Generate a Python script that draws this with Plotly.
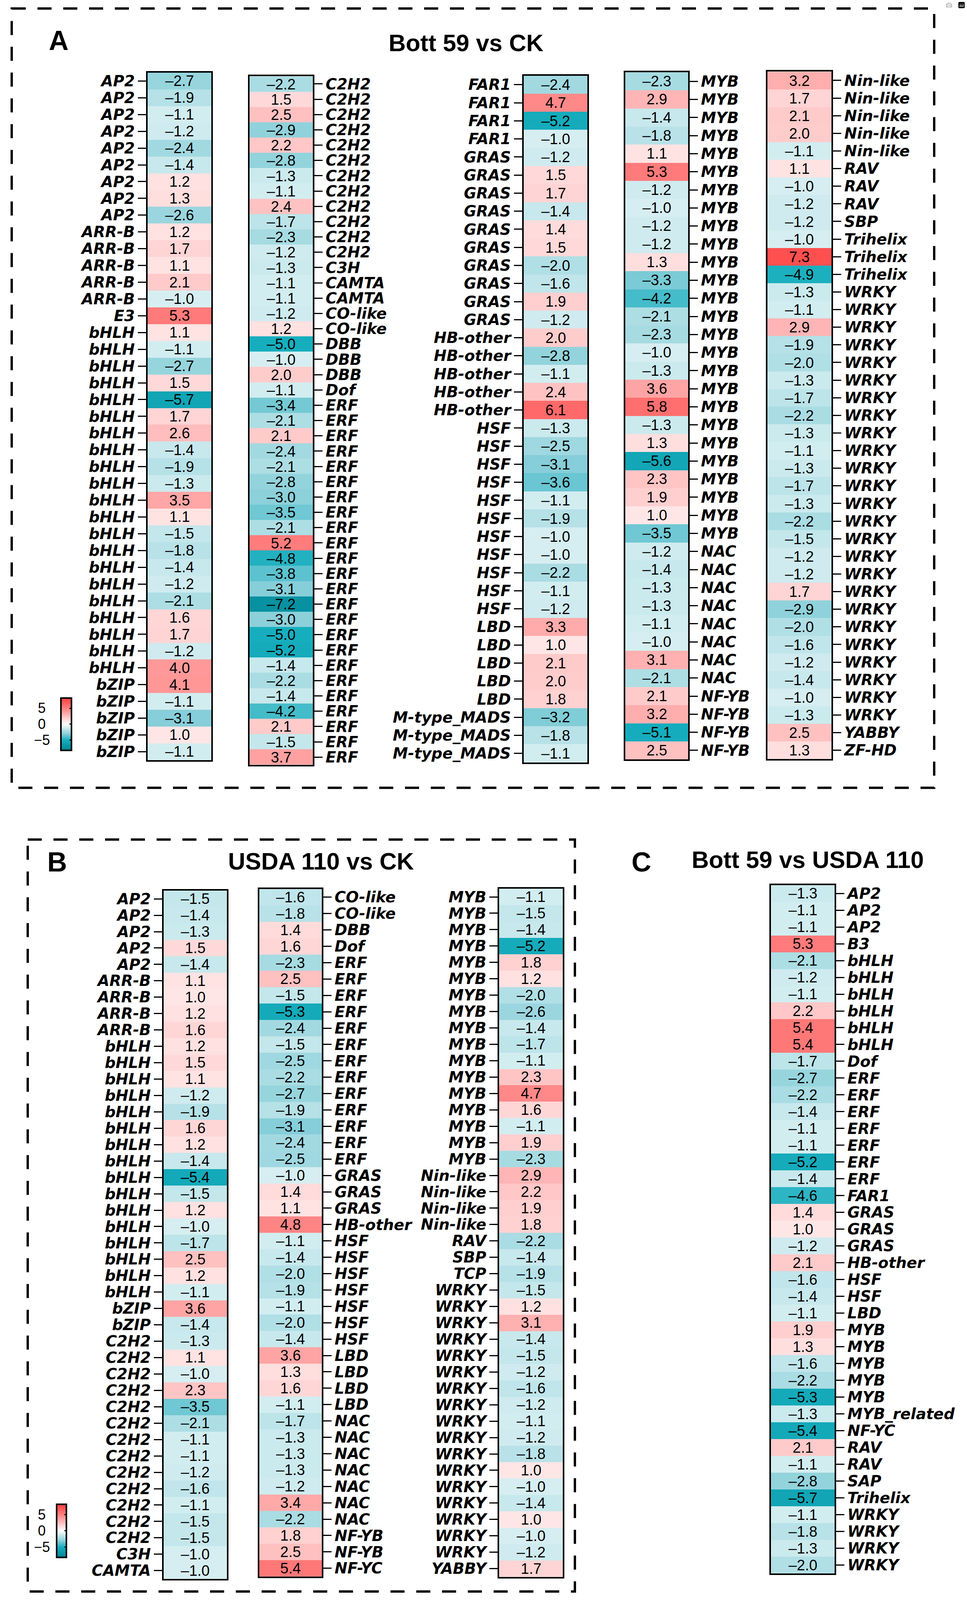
import plotly.graph_objects as go

# reference canvas (positions below are given in these pixel units and converted to paper fractions)
W, H = 2476, 4783
FONT = "Liberation Sans, Arial, sans-serif"
LABEL_FONT = "DejaVu Sans, Liberation Sans, sans-serif"

# ---------------- data ----------------
A1_labels = ["AP2", "AP2", "AP2", "AP2", "AP2", "AP2", "AP2", "AP2", "AP2",
             "ARR-B", "ARR-B", "ARR-B", "ARR-B", "ARR-B", "E3",
             "bHLH", "bHLH", "bHLH", "bHLH", "bHLH", "bHLH", "bHLH", "bHLH", "bHLH", "bHLH", "bHLH",
             "bHLH", "bHLH", "bHLH", "bHLH", "bHLH", "bHLH", "bHLH", "bHLH", "bHLH", "bHLH",
             "bZIP", "bZIP", "bZIP", "bZIP", "bZIP"]
A1_values = [-2.7, -1.9, -1.1, -1.2, -2.4, -1.4, 1.2, 1.3, -2.6,
             1.2, 1.7, 1.1, 2.1, -1.0, 5.3,
             1.1, -1.1, -2.7, 1.5, -5.7, 1.7, 2.6, -1.4, -1.9, -1.3, 3.5,
             1.1, -1.5, -1.8, -1.4, -1.2, -2.1, 1.6, 1.7, -1.2, 4.0,
             4.1, -1.1, -3.1, 1.0, -1.1]

A2_labels = ["C2H2", "C2H2", "C2H2", "C2H2", "C2H2", "C2H2", "C2H2", "C2H2", "C2H2", "C2H2", "C2H2", "C2H2",
             "C3H", "CAMTA", "CAMTA", "CO-like", "CO-like", "DBB", "DBB", "DBB", "Dof",
             "ERF", "ERF", "ERF", "ERF", "ERF", "ERF", "ERF", "ERF", "ERF", "ERF", "ERF", "ERF",
             "ERF", "ERF", "ERF", "ERF", "ERF", "ERF", "ERF", "ERF", "ERF", "ERF", "ERF", "ERF"]
A2_values = [-2.2, 1.5, 2.5, -2.9, 2.2, -2.8, -1.3, -1.1, 2.4, -1.7, -2.3, -1.2,
             -1.3, -1.1, -1.1, -1.2, 1.2, -5.0, -1.0, 2.0, -1.1,
             -3.4, -2.1, 2.1, -2.4, -2.1, -2.8, -3.0, -3.5, -2.1, 5.2, -4.8, -3.8,
             -3.1, -7.2, -3.0, -5.0, -5.2, -1.4, -2.2, -1.4, -4.2, 2.1, -1.5, 3.7]

A3_labels = ["FAR1", "FAR1", "FAR1", "FAR1",
             "GRAS", "GRAS", "GRAS", "GRAS", "GRAS", "GRAS", "GRAS", "GRAS", "GRAS", "GRAS",
             "HB-other", "HB-other", "HB-other", "HB-other", "HB-other",
             "HSF", "HSF", "HSF", "HSF", "HSF", "HSF", "HSF", "HSF", "HSF", "HSF", "HSF",
             "LBD", "LBD", "LBD", "LBD", "LBD",
             "M-type_MADS", "M-type_MADS", "M-type_MADS"]
A3_values = [-2.4, 4.7, -5.2, -1.0,
             -1.2, 1.5, 1.7, -1.4, 1.4, 1.5, -2.0, -1.6, 1.9, -1.2,
             2.0, -2.8, -1.1, 2.4, 6.1,
             -1.3, -2.5, -3.1, -3.6, -1.1, -1.9, -1.0, -1.0, -2.2, -1.1, -1.2,
             3.3, 1.0, 2.1, 2.0, 1.8,
             -3.2, -1.8, -1.1]

A4_labels = ["MYB", "MYB", "MYB", "MYB", "MYB", "MYB", "MYB", "MYB", "MYB", "MYB", "MYB", "MYB", "MYB",
             "MYB", "MYB", "MYB", "MYB", "MYB", "MYB", "MYB", "MYB", "MYB", "MYB", "MYB", "MYB", "MYB",
             "NAC", "NAC", "NAC", "NAC", "NAC", "NAC", "NAC", "NAC",
             "NF-YB", "NF-YB", "NF-YB", "NF-YB"]
A4_values = [-2.3, 2.9, -1.4, -1.8, 1.1, 5.3, -1.2, -1.0, -1.2, -1.2, 1.3, -3.3, -4.2,
             -2.1, -2.3, -1.0, -1.3, 3.6, 5.8, -1.3, 1.3, -5.6, 2.3, 1.9, 1.0, -3.5,
             -1.2, -1.4, -1.3, -1.3, -1.1, -1.0, 3.1, -2.1,
             2.1, 3.2, -5.1, 2.5]

A5_labels = ["Nin-like", "Nin-like", "Nin-like", "Nin-like", "Nin-like", "RAV", "RAV", "RAV", "SBP",
             "Trihelix", "Trihelix", "Trihelix",
             "WRKY", "WRKY", "WRKY", "WRKY", "WRKY", "WRKY", "WRKY", "WRKY", "WRKY", "WRKY", "WRKY", "WRKY",
             "WRKY", "WRKY", "WRKY", "WRKY", "WRKY", "WRKY", "WRKY", "WRKY", "WRKY", "WRKY", "WRKY", "WRKY",
             "WRKY", "YABBY", "ZF-HD"]
A5_values = [3.2, 1.7, 2.1, 2.0, -1.1, 1.1, -1.0, -1.2, -1.2,
             -1.0, 7.3, -4.9,
             -1.3, -1.1, 2.9, -1.9, -2.0, -1.3, -1.7, -2.2, -1.3, -1.1, -1.3, -1.7,
             -1.3, -2.2, -1.5, -1.2, -1.2, 1.7, -2.9, -2.0, -1.6, -1.2, -1.4, -1.0,
             -1.3, 2.5, 1.3]

B1_labels = ["AP2", "AP2", "AP2", "AP2", "AP2", "ARR-B", "ARR-B", "ARR-B", "ARR-B",
             "bHLH", "bHLH", "bHLH", "bHLH", "bHLH", "bHLH", "bHLH", "bHLH",
             "bHLH", "bHLH", "bHLH", "bHLH", "bHLH", "bHLH", "bHLH", "bHLH",
             "bZIP", "bZIP",
             "C2H2", "C2H2", "C2H2", "C2H2", "C2H2", "C2H2", "C2H2", "C2H2", "C2H2", "C2H2", "C2H2",
             "C2H2", "C2H2", "C3H", "CAMTA"]
B1_values = [-1.5, -1.4, -1.3, 1.5, -1.4, 1.1, 1.0, 1.2, 1.6,
             1.2, 1.5, 1.1, -1.2, -1.9, 1.6, 1.2, -1.4,
             -5.4, -1.5, 1.2, -1.0, -1.7, 2.5, 1.2, -1.1,
             3.6, -1.4,
             -1.3, 1.1, -1.0, 2.3, -3.5, -2.1, -1.1, -1.1, -1.2, -1.6, -1.1,
             -1.5, -1.5, -1.0, -1.0]

B2_labels = ["CO-like", "CO-like", "DBB", "Dof",
             "ERF", "ERF", "ERF", "ERF", "ERF", "ERF", "ERF", "ERF", "ERF", "ERF", "ERF", "ERF", "ERF",
             "GRAS", "GRAS", "GRAS", "HB-other",
             "HSF", "HSF", "HSF", "HSF", "HSF", "HSF", "HSF",
             "LBD", "LBD", "LBD", "LBD",
             "NAC", "NAC", "NAC", "NAC", "NAC", "NAC", "NAC",
             "NF-YB", "NF-YB", "NF-YC"]
B2_values = [-1.6, -1.8, 1.4, 1.6,
             -2.3, 2.5, -1.5, -5.3, -2.4, -1.5, -2.5, -2.2, -2.7, -1.9, -3.1, -2.4, -2.5,
             -1.0, 1.4, 1.1, 4.8,
             -1.1, -1.4, -2.0, -1.9, -1.1, -2.0, -1.4,
             3.6, 1.3, 1.6, -1.1,
             -1.7, -1.3, -1.3, -1.3, -1.2, 3.4, -2.2,
             1.8, 2.5, 5.4]

B3_labels = ["MYB", "MYB", "MYB", "MYB", "MYB", "MYB", "MYB", "MYB", "MYB", "MYB", "MYB", "MYB",
             "MYB", "MYB", "MYB", "MYB", "MYB",
             "Nin-like", "Nin-like", "Nin-like", "Nin-like", "RAV", "SBP", "TCP",
             "WRKY", "WRKY", "WRKY", "WRKY", "WRKY", "WRKY", "WRKY", "WRKY", "WRKY", "WRKY", "WRKY",
             "WRKY", "WRKY", "WRKY", "WRKY", "WRKY", "WRKY", "YABBY"]
B3_values = [-1.1, -1.5, -1.4, -5.2, 1.8, 1.2, -2.0, -2.6, -1.4, -1.7, -1.1, 2.3,
             4.7, 1.6, -1.1, 1.9, -2.3,
             2.9, 2.2, 1.9, 1.8, -2.2, -1.4, -1.9,
             -1.5, 1.2, 3.1, -1.4, -1.5, -1.2, -1.6, -1.2, -1.1, -1.2, -1.8,
             1.0, -1.0, -1.4, 1.0, -1.0, -1.2, 1.7]

C_labels = ["AP2", "AP2", "AP2", "B3", "bHLH", "bHLH", "bHLH", "bHLH", "bHLH", "bHLH", "Dof",
            "ERF", "ERF", "ERF", "ERF", "ERF", "ERF", "ERF", "FAR1", "GRAS", "GRAS", "GRAS",
            "HB-other", "HSF", "HSF", "LBD", "MYB", "MYB", "MYB", "MYB", "MYB", "MYB_related",
            "NF-YC", "RAV", "RAV", "SAP", "Trihelix", "WRKY", "WRKY", "WRKY", "WRKY"]
C_values = [-1.3, -1.1, -1.1, 5.3, -2.1, -1.2, -1.1, 2.2, 5.4, 5.4, -1.7,
            -2.7, -2.2, -1.4, -1.1, -1.1, -5.2, -1.4, -4.6, 1.4, 1.0, -1.2,
            2.1, -1.6, -1.4, -1.1, 1.9, 1.3, -1.6, -2.2, -5.3, -1.3,
            -5.4, 2.1, -1.1, -2.8, -5.7, -1.1, -1.8, -1.3, -2.0]

colorbar_ticks = [-5, 0, 5]
CMIN, CMAX = -8.2, 8.2

# ---------------- styling ----------------
def frac(v):
    return (v - CMIN) / (CMAX - CMIN)

colorscale = [
    [frac(-8.2), "rgb(0,132,148)"],
    [frac(-5.0), "rgb(22,174,190)"],
    [frac(-3.0), "rgb(140,208,218)"],
    [frac(-1.0), "rgb(214,238,241)"],
    [frac(0.0), "rgb(255,255,255)"],
    [frac(5.0), "rgb(255,128,128)"],
    [frac(8.2), "rgb(255,60,60)"],
]

# (name, labels, values, x0, x1, ytop, ybottom, label side, coloraxis)
columns = [
    ("A1", A1_labels, A1_values, 378, 541, 214, 2272, "left", "coloraxis"),
    ("A2", A2_labels, A2_values, 639, 801, 225, 2286, "right", "coloraxis"),
    ("A3", A3_labels, A3_values, 1341, 1504, 223, 2279, "left", "coloraxis"),
    ("A4", A4_labels, A4_values, 1601, 1762, 213, 2270, "right", "coloraxis"),
    ("A5", A5_labels, A5_values, 1965, 2129, 211, 2269, "right", "coloraxis"),
    ("B1", B1_labels, B1_values, 419, 581, 2663, 4723, "left", "coloraxis2"),
    ("B2", B2_labels, B2_values, 664, 824, 2658, 4716, "right", "coloraxis2"),
    ("B3", B3_labels, B3_values, 1278, 1441, 2657, 4717, "left", "coloraxis2"),
    ("C", C_labels, C_values, 1974, 2137, 2646, 4707, "right", "coloraxis2"),
]

fig = go.Figure()
layout_axes = {}
for i, (name, labels, values, x0, x1, yt, yb, side, cax) in enumerate(columns, start=1):
    n = len(values)
    sfx = "" if i == 1 else str(i)
    fig.add_trace(go.Heatmap(
        z=[[v] for v in values],
        x=[0],
        y=list(range(n)),
        text=[[f"{v:.1f}".replace("-", "\u2013")] for v in values],
        texttemplate="%{text}",
        textfont=dict(family=FONT, size=38, color="black"),
        coloraxis=cax,
        xgap=0, ygap=0,
        hoverinfo="skip",
        xaxis="x" + sfx, yaxis="y" + sfx,
        name=name,
    ))
    layout_axes["xaxis" + sfx] = dict(
        domain=[x0 / W, x1 / W], anchor="y" + sfx, range=[-0.5, 0.5],
        showticklabels=False, ticks="", showgrid=False, zeroline=False,
        showline=True, mirror=True, linewidth=4, linecolor="black", fixedrange=True,
    )
    layout_axes["yaxis" + sfx] = dict(
        domain=[1 - yb / H, 1 - yt / H], anchor="x" + sfx, range=[n - 0.5, -0.5],
        tickmode="array", tickvals=list(range(n)), ticktext=labels, side=side,
        ticks="outside", ticklen=21, tickwidth=3, tickcolor="black",
        tickfont=dict(family=LABEL_FONT, size=39, color="black", weight="bold", style="italic"),
        showgrid=False, zeroline=False,
        showline=True, mirror=True, linewidth=4, linecolor="black", fixedrange=True,
    )

CB_A = (156, 183, 2086, 2243)
CB_B = (145, 170, 4500, 4659)

def cbar(x0, x1, ytop, ybot):
    return dict(
        x=x0 / W, xanchor="left", y=1 - (ytop + ybot) / 2 / H, yanchor="middle",
        len=(ybot - ytop) / H, lenmode="fraction", thickness=x1 - x0, thicknessmode="pixels",
        outlinewidth=4, outlinecolor="black", xpad=0, ypad=0,
        tickmode="array", tickvals=colorbar_ticks, ticks="inside", ticklen=7,
        tickwidth=3, tickcolor="black", showticklabels=False,
    )

fig.update_layout(
    autosize=True,
    margin=dict(l=0, r=0, t=0, b=0, pad=0),
    paper_bgcolor="white", plot_bgcolor="white",
    showlegend=False,
    coloraxis=dict(cmin=CMIN, cmax=CMAX, colorscale=colorscale, colorbar=cbar(*CB_A)),
    coloraxis2=dict(cmin=CMIN, cmax=CMAX, colorscale=colorscale, colorbar=cbar(*CB_B)),
    **layout_axes,
)

def ann(text, x, y, size, bold=True, xanchor="center"):
    fig.add_annotation(
        text=text, x=x / W, y=1 - y / H, xref="paper", yref="paper",
        xanchor=xanchor, yanchor="middle", showarrow=False,
        font=dict(family=FONT, size=size, color="black", weight="bold" if bold else "normal"),
    )

ann("A", 150, 118, 70)
ann("Bott 59 vs CK", 1193, 125, 61)
ann("B", 146, 2577, 70)
ann("USDA 110 vs CK", 822, 2575, 61)
ann("C", 1642, 2577, 70)
ann("Bott 59 vs USDA 110", 2068, 2570, 61)

# colorbar tick labels (to the left of the bars) and left-edge tick dashes
for cx0, cx1, cb_top, cb_bot in [CB_A, CB_B]:
    for t in colorbar_ticks:
        ypix = cb_bot - (t - CMIN) / (CMAX - CMIN) * (cb_bot - cb_top)
        ann(f"{t}".replace("-", "\u2212"), 107, ypix, 36, bold=False)
        fig.add_shape(type="line", xref="paper", yref="paper",
                      x0=cx0 / W, x1=(cx0 + 8) / W, y0=1 - ypix / H, y1=1 - ypix / H,
                      line=dict(color="black", width=3))

# dashed panel frames
for x0, y0, x1, y1 in [(30, 22, 2392, 2355), (71, 2510, 1472, 4761)]:
    fig.add_shape(
        type="rect", xref="paper", yref="paper",
        x0=x0 / W, x1=x1 / W, y0=1 - y0 / H, y1=1 - y1 / H,
        line=dict(color="black", width=6, dash="36px,30px"),
        fillcolor="rgba(0,0,0,0)",
    )

# let the figure fill exactly the browser window that photographs it
fit_window = (
    "var gd=document.getElementById('{plot_id}');"
    "document.documentElement.style.margin='0';"
    "document.body.style.margin='0';"
    "document.body.style.overflow='hidden';"
    "gd.style.width='100vw';gd.style.height='100vh';"
    "Plotly.Plots.resize(gd);"
)

fig.write_html(
    "out.html",
    default_width="calc(100vw - 16px)",
    default_height="calc(100vh - 16px)",
    post_script=fit_window,
)
